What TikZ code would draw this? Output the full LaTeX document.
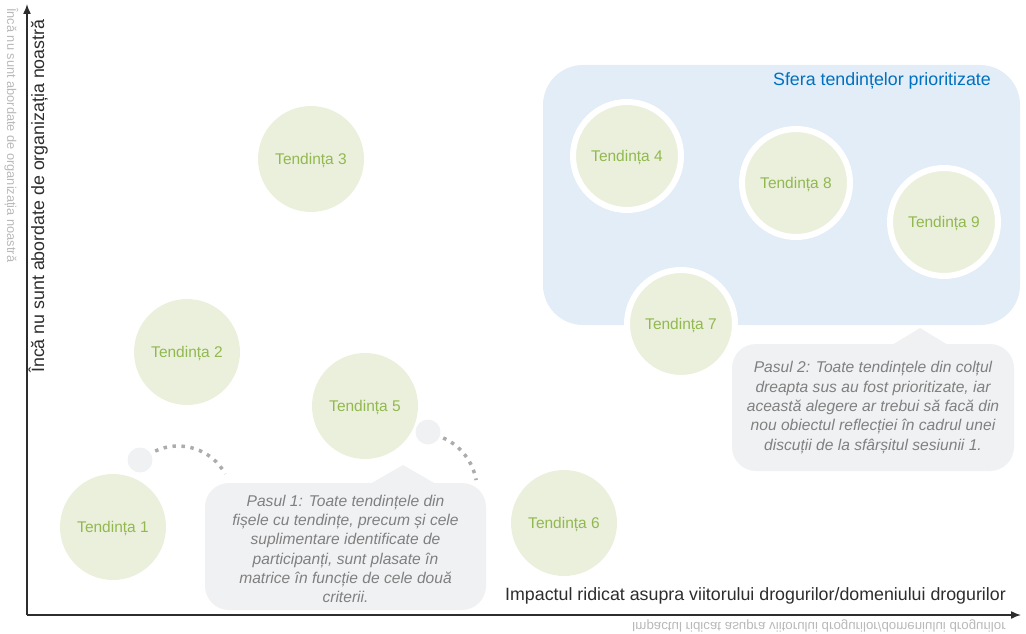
\documentclass[tikz,border=0pt]{standalone}
\usepackage{fontspec}
\setmainfont{Liberation Sans}
\usetikzlibrary{arrows.meta}
\definecolor{axiscol}{RGB}{45,45,45}
\definecolor{trendfill}{RGB}{235,240,220}
\definecolor{trendtext}{RGB}{146,184,80}
\definecolor{zonefill}{RGB}{226,237,247}
\definecolor{zonetitle}{RGB}{0,112,192}
\definecolor{calloutfill}{RGB}{240,241,243}
\definecolor{callouttext}{RGB}{128,128,128}
\definecolor{dotcol}{RGB}{172,172,172}
\definecolor{faint}{RGB}{185,185,185}
\tikzset{
  trend/.style={circle, fill=trendfill, minimum size=106pt, inner sep=0pt,
    text=trendtext, font=\fontsize{15.5}{18}\selectfont, text height=11pt, text depth=0pt},
  ringtrend/.style={trend, draw=white, line width=6pt, minimum size=108pt},
  callout/.style={fill=calloutfill, rounded corners=24pt, inner sep=0pt},
  callouttxt/.style={text=callouttext, align=center, inner sep=0pt,
    font=\fontsize{15.6}{19.3}\selectfont\itshape},
  axisline/.style={draw=axiscol, line width=1.5pt, -{Latex[length=10pt,width=8pt]}},
  dotted arc/.style={draw=dotcol, line width=3.5pt, dash pattern=on 3.5pt off 5.5pt},
  smallblob/.style={circle, fill=calloutfill, minimum size=25pt, inner sep=0pt},
  axislabel/.style={text=axiscol, font=\fontsize{17.8}{21}\selectfont, inner sep=0pt},
  faintlabel/.style={text=faint, font=\fontsize{13.3}{15}\selectfont, inner sep=0pt}
}
\begin{document}
\begin{tikzpicture}[x=1pt,y=-1pt]
\path[use as bounding box] (0,0) rectangle (1026,634);

% prioritised zone
\path[fill=zonefill, rounded corners=40pt] (543,65) rectangle (1020,325);
\node[anchor=base east, inner sep=0pt, text=zonetitle, font=\fontsize{17.8}{21}\selectfont] (zt) at (991,85) {Sfera tendințelor prioritizate};

% callouts
\node[callout, minimum width=281pt, minimum height=127pt] (c1) at (345.5,546.5) {};
\fill[calloutfill] (370,484) -- (403,465) -- (436,484) -- cycle;
\node[callouttxt] (c1t) at ([yshift=-2.5pt]c1.center)
 {Pasul 1: Toate tendințele din\\fișele cu tendințe, precum și cele\\suplimentare identificate de\\participanți, sunt plasate în\\matrice în funcție de cele două\\criterii.};
\node[callout, minimum width=282pt, minimum height=127pt] (c2) at (873,407.5) {};
\fill[calloutfill] (892,345) -- (920,328) -- (948,345) -- cycle;
\node[callouttxt] (c2t) at (c2.center)
 {Pasul 2: Toate tendințele din colțul\\dreapta sus au fost prioritizate, iar\\această alegere ar trebui să facă din\\nou obiectul reflecției în cadrul unei\\discuții de la sfârșitul sesiunii 1.};

% trends
\node[trend] (t1) at (113,527) {Tendința 1};
\node[trend] (t2) at (187,352) {Tendința 2};
\node[trend] (t3) at (311,159) {Tendința 3};
\node[trend] (t5) at (365,406) {Tendința 5};
\node[trend] (t6) at (564,523) {Tendința 6};
\node[ringtrend] (t4) at (627,156) {Tendința 4};
\node[ringtrend] (t8) at (796,183) {Tendința 8};
\node[ringtrend] (t9) at (944,222) {Tendința 9};
\node[ringtrend] (t7) at (681,324) {Tendința 7};

% small blobs and dotted arcs
\node[smallblob] (b1) at (140,460) {};
\node[smallblob] (b2) at (428,432) {};
\coordinate (a1) at (178,500);
\coordinate (a2) at (420,490);
\draw[dotted arc] (a1) ++(245:54) arc[start angle=245, end angle=331, radius=54];
\draw[dotted arc] (a2) ++(294:57) arc[start angle=294, end angle=350, radius=57];

% axes
\coordinate (o) at (27,615);
\coordinate (ytop) at (27,4);
\coordinate (xend) at (1021,615);
\draw[axisline] (o) -- (ytop);
\draw[axisline] (o) -- (xend);

\node[axislabel, anchor=base east] (xl) at (1006,600) {Impactul ridicat asupra viitorului drogurilor/domeniului drogurilor};
\node[axislabel, rotate=90, anchor=base west] (yl) at (44,373) {Încă nu sunt abordate de organizația noastră};
\node[faintlabel, yscale=-1, anchor=base east] (xf) at (1006,622) {Impactul ridicat asupra viitorului drogurilor/domeniului drogurilor};
\node[faintlabel, font=\fontsize{12.8}{15}\selectfont, rotate=-90, anchor=base west] (yf) at (7,8) {Încă nu sunt abordate de organizația noastră};
\end{tikzpicture}
\end{document}
